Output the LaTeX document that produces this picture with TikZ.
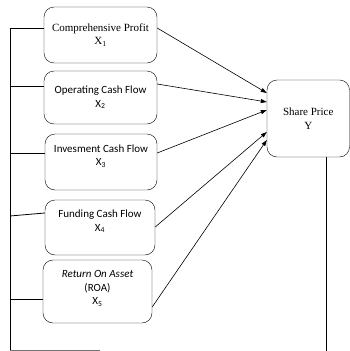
\documentclass[tikz,border=0pt]{standalone}
\usepackage{fontspec}
\setmainfont{Liberation Serif}
\newfontfamily\calibri{Carlito}
\usetikzlibrary{arrows.meta}

\tikzset{
  varbox/.style={draw,rounded corners=10pt,align=center,inner sep=2pt,font=\calibri\fontsize{11}{13.5}\selectfont},
  serifbox/.style={varbox,font=\fontsize{11}{13.5}\selectfont},
  lifted/.style={text depth=14pt},
  link/.style={-{Triangle[length=6pt,width=4pt]},line width=0.6pt},
  frame/.style={line width=0.8pt}
}

\begin{document}
\begin{tikzpicture}[x=1pt,y=-1pt]
      \useasboundingbox (0,0) rectangle (350,351);
      \draw
        (100.5,35) node[serifbox,minimum width=113pt,minimum height=56pt] (x1){Comprehensive Profit\\X\textsubscript{1}}
        (100.5,97.5) node[varbox,minimum width=113pt,minimum height=53pt] (x2){Operating Cash Flow\\X\textsubscript{2}}
        (101,162) node[varbox,lifted,minimum width=112pt,minimum height=56pt] (x3){Invesment Cash Flow\\X\textsubscript{3}}
        (100,227.5) node[varbox,lifted,minimum width=110pt,minimum height=55pt] (x4){Funding Cash Flow\\X\textsubscript{4}}
        (97.5,291.5) node[varbox,text depth=8pt,minimum width=109pt,minimum height=63pt] (x5){\textit{Return On Asset}\\(ROA)\\X\textsubscript{5}}
        (308.25,118.5) node[serifbox,minimum width=82.5pt,minimum height=77pt] (y){Share Price\\Y};
      % corners of the outer frame
      \coordinate (top left) at (10,28);
      \coordinate (bottom left) at (10,350);
      \coordinate (bottom mid) at (100,350);
      \coordinate (bottom right) at (326,351);
      \begin{scope}[link]
        \draw ([yshift=7pt]x1.east) to ([yshift=25.5pt]y.west);
        \draw ([yshift=13.5pt]x2.east) to ([yshift=16.5pt]y.west);
        \draw ([yshift=9pt]x3.east) to ([yshift=8.5pt]y.west);
        \draw ([yshift=0.5pt]x4.east) to ([yshift=-13.5pt]y.west);
        \draw ([yshift=-15.5pt]x5.east) to ([yshift=-21.5pt]y.west);
      \end{scope}
      \begin{scope}[frame]
        \draw (x1.west |- top left) -- (top left) -- (bottom left);
        \draw (bottom left |- x2.west) ++(0,-11.5) -- ([yshift=11.5pt]x2.west);
        \draw (bottom left |- x3.west) ++(0,-9) -- ([yshift=9pt]x3.west);
        \draw (bottom left |- x4.west) ++(0,-11.5) -- ([yshift=14.5pt]x4.west);
        \draw (bottom left |- x5.west) ++(0,7.5) -- ([yshift=-7.5pt]x5.west);
        \draw[black!55] (bottom left) -- (bottom mid);
        \draw (y.south -| bottom right) -- (bottom right);
      \end{scope}
    \end{tikzpicture}
\end{document}
